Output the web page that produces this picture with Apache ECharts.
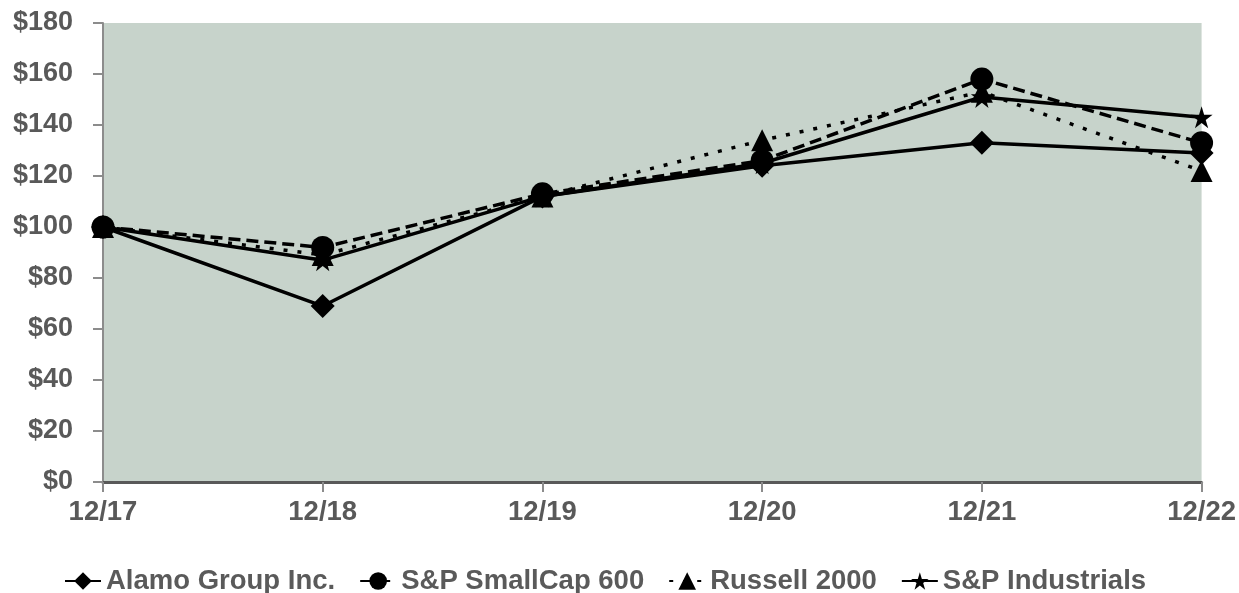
<!DOCTYPE html>
<html>
<head>
<meta charset="utf-8">
<script src="https://cdn.jsdelivr.net/npm/echarts@6/dist/echarts.min.js"></script>
<style>
html,body{margin:0;padding:0;background:#fff;}
#c{width:1239px;height:593px;}
</style>
</head>
<body>
<div id="c"></div>
<script>
var categories = ['12/17','12/18','12/19','12/20','12/21','12/22'];
var alamo = [100, 69, 112, 124, 133, 129];
var smallCap = [100, 92, 113, 126, 158, 133];
var russell = [100, 89, 112, 134, 153, 122];
var industrials = [100, 87, 112, 125, 151, 143];
var seriesNames = ['Alamo Group Inc.', 'S&P SmallCap 600', 'Russell 2000', 'S&P Industrials'];

var chart = echarts.init(document.getElementById('c'));
var font = 'Liberation Sans, Arial, sans-serif';
function mk(name, data, symbol, size, lineType) {
  return {
    name: name, type: 'line', data: data,
    symbol: symbol, symbolSize: size, showSymbol: true,
    lineStyle: {color: '#000', width: 3.5, type: lineType},
    itemStyle: {color: '#000'},
    animation: false
  };
}
chart.setOption({
  animation: false,
  grid: {left: 103, right: 36, top: 23, bottom: 111, show: true, backgroundColor: '#c7d3cb', borderWidth: 0},
  legend: {
    top: 567, left: 64, padding: 0, itemGap: 24, itemWidth: 36, itemHeight: 22,
    textStyle: {color: '#5a5a5a', fontSize: 27.5, fontWeight: 'bold', fontFamily: font},
    data: seriesNames
  },
  xAxis: {
    type: 'category', data: categories, boundaryGap: false,
    axisLine: {lineStyle: {color: '#595959', width: 3}},
    axisTick: {show: true, length: 10, lineStyle: {color: '#8c8c8c', width: 2}},
    axisLabel: {color: '#595959', fontSize: 27.5, fontWeight: 'bold', fontFamily: font, margin: 16},
    splitLine: {show: false}
  },
  yAxis: {
    type: 'value', min: 0, max: 180, interval: 20,
    axisLine: {show: true, lineStyle: {color: '#8c8c8c', width: 2}},
    axisTick: {show: true, length: 10, lineStyle: {color: '#8c8c8c', width: 2}},
    axisLabel: {color: '#595959', fontSize: 27, fontWeight: 'bold', fontFamily: font, margin: 30, formatter: '${value}'},
    splitLine: {show: false}
  },
  series: [
    mk(seriesNames[0], alamo, 'diamond', 24, 'solid'),
    mk(seriesNames[1], smallCap, 'circle', 23, [12, 6]),
    mk(seriesNames[2], russell, 'triangle', 22, [4, 10]),
    mk(seriesNames[3], industrials, 'path://M50,0 L61,35 L98,35 L68,57 L79,92 L50,70 L21,92 L32,57 L2,35 L39,35 Z', 22, 'solid')
  ]
});
</script>
</body>
</html>
